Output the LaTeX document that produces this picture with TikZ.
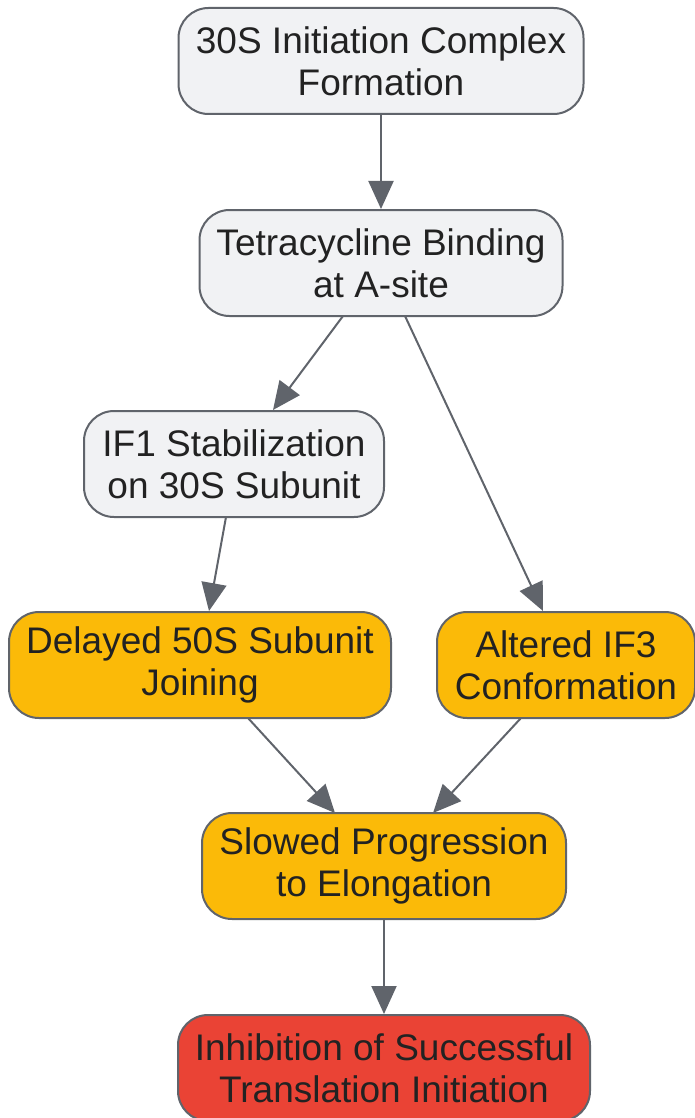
\documentclass[tikz,border=0pt]{standalone}
\usepackage{fontspec}
\setmainfont{Liberation Sans}
\usetikzlibrary{arrows.meta}
\definecolor{boxgray}{HTML}{F1F2F4}
\definecolor{edgegray}{HTML}{60646B}
\definecolor{boxorange}{HTML}{FBBA08}
\definecolor{boxred}{HTML}{EA4335}
\definecolor{txt}{HTML}{222222}
\tikzset{
  flowbox/.style={draw=edgegray, line width=2pt, rounded corners=30pt, align=center,
    text=txt, font=\fontsize{37}{42}\selectfont, inner sep=0pt, minimum height=106pt},
  graybox/.style={flowbox, fill=boxgray},
  orangebox/.style={flowbox, fill=boxorange},
  redbox/.style={flowbox, fill=boxred},
  flowarrow/.style={draw=edgegray, line width=2pt, -{Triangle[length=28pt,width=25pt]}}
}
\begin{document}
\begin{tikzpicture}[x=1pt,y=-1pt]
\useasboundingbox (0,0) rectangle (694,1118);
\node[graybox, minimum width=405pt] (n1) at (381,61) {30S Initiation Complex\\Formation};
\node[graybox, minimum width=363pt] (n2) at (381,263) {Tetracycline Binding\\at A-site};
\node[graybox, minimum width=300pt] (n3) at (234,464) {IF1 Stabilization\\on 30S Subunit};
\node[orangebox, minimum width=382pt] (n4) at (200,665) {Delayed 50S Subunit\\Joining};
\node[orangebox, minimum width=258pt] (n5) at (566,665) {Altered IF3\\Conformation};
\node[orangebox, minimum width=364pt] (n6) at (384,866) {Slowed Progression\\to Elongation};
\node[redbox, minimum width=412pt] (n7) at (384,1068) {Inhibition of Successful\\Translation Initiation};
\coordinate (a2s) at (343,316); \coordinate (a3e) at (273,410);
\coordinate (b2s) at (405,316); \coordinate (b5e) at (543,611);
\coordinate (c3s) at (226,517); \coordinate (c4e) at (209,611);
\coordinate (d4s) at (248,718); \coordinate (d6e) at (335,813);
\coordinate (e5s) at (521,718); \coordinate (e6e) at (433,813);
\draw[flowarrow] (n1.south) -- (n2.north);
\draw[flowarrow] (a2s) -- (a3e);
\draw[flowarrow] (b2s) -- (b5e);
\draw[flowarrow] (c3s) -- (c4e);
\draw[flowarrow] (d4s) -- (d6e);
\draw[flowarrow] (e5s) -- (e6e);
\draw[flowarrow] (n6.south) -- (n7.north);
\end{tikzpicture}
\end{document}
